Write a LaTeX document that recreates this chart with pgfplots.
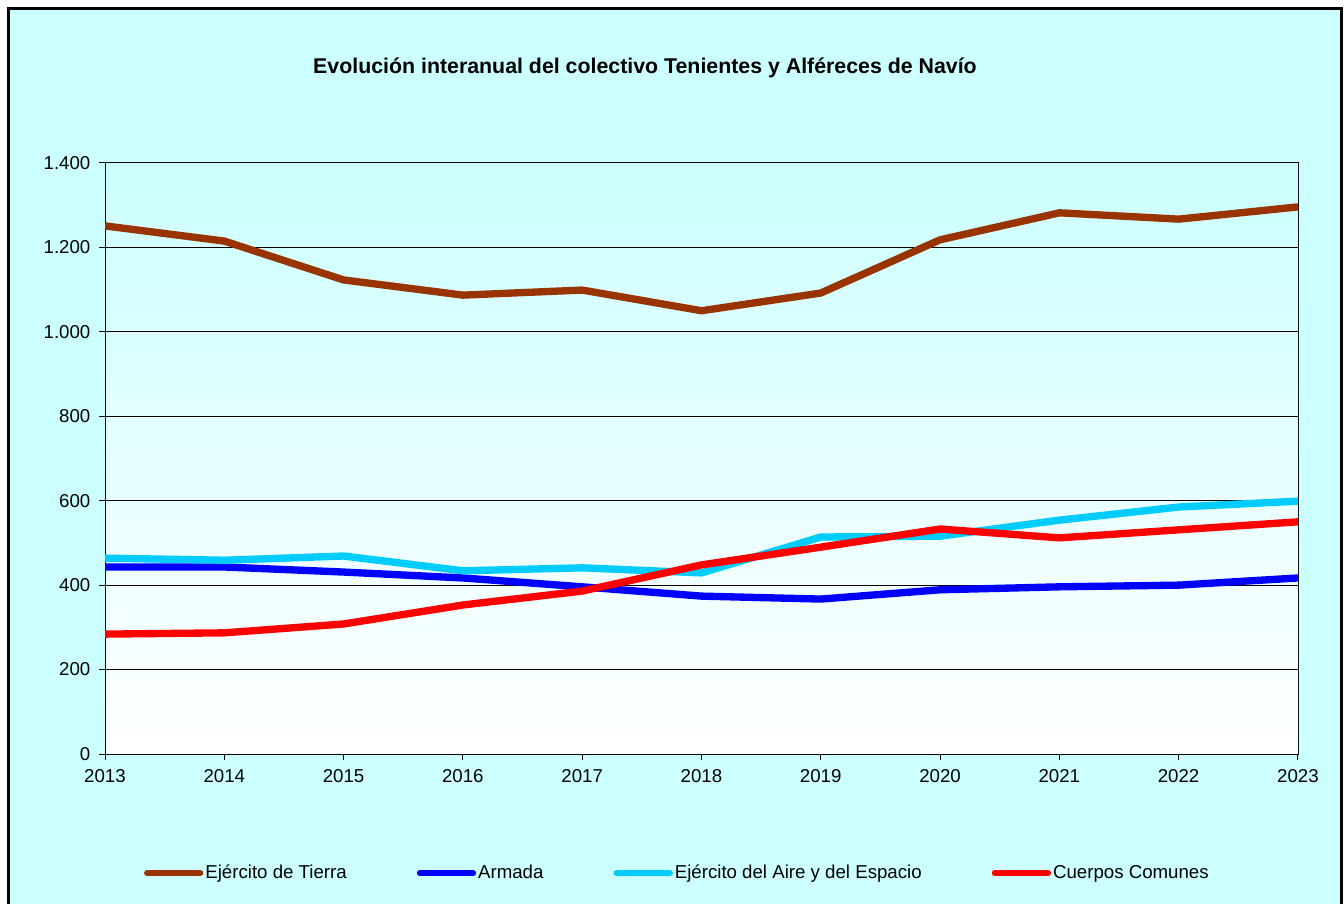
\documentclass[border=0pt]{standalone}
\usepackage{pgfplots}
\pgfplotsset{compat=1.18}
\usepackage{fontspec}
\setmainfont{Liberation Sans}

\definecolor{fondo}{HTML}{CCFFFF}
\definecolor{tierra}{HTML}{993300}
\definecolor{armada}{HTML}{0000FF}
\definecolor{aire}{HTML}{00CCFF}
\definecolor{comunes}{HTML}{FF0000}

\begin{document}
\begin{tikzpicture}[x=0.75pt,y=0.75pt]
\useasboundingbox (0,0) rectangle (1344,903);
\fill[white] (0,0) rectangle (1344,903);
\draw[line width=2.25pt, fill=fondo] (8.5,-10) rectangle (1341,894.5);

\node[font=\fontsize{16}{19}\selectfont\bfseries] at (645,835)
  {Evolución interanual del colectivo Tenientes y Alféreces de Navío};

\begin{axis}[
    at={(78.75pt,111.75pt)}, anchor=south west,
    scale only axis,
    width=894.75pt, height=443.25pt,
    xmin=2013, xmax=2023,
    ymin=0, ymax=1400,
    xtick={2013,...,2023},
    ytick={0,200,...,1400},
    /pgf/number format/assume math mode=true,
    /pgf/number format/1000 sep={.},
    xticklabel style={/pgf/number format/1000 sep={}, yshift=-3.5pt},
    yticklabel style={xshift=-3pt},
    tick label style={font=\fontsize{14}{16}\selectfont},
    tick align=outside,
    xtick pos=left, ytick pos=left,
    major tick length=4.5pt,
    tick style={black, line width=0.75pt},
    axis line style={black, line width=0.75pt},
    ymajorgrids=true,
    grid style={black, line width=0.75pt},
    axis background/.style={top color=fondo, bottom color=white},
    legend columns=4,
    legend style={at={(rel axis cs:0.0325,-0.2014)}, anchor=west,
        draw=none, fill=none, inner xsep=0pt,
        font=\fontsize{14}{16}\selectfont,
        nodes={inner xsep=1.5pt},
        /tikz/every even column/.append style={column sep=51pt}},
    legend cell align=left,
    legend image code/.code={\draw[#1, line width=4.5pt, line cap=round] (1pt,0pt) -- (41pt,0pt);},
    every axis plot/.append style={line width=5.5pt, line join=round},
]
\addplot[tierra] coordinates {
 (2013,1251) (2014,1215) (2015,1123) (2016,1087) (2017,1099) (2018,1050)
 (2019,1092) (2020,1218) (2021,1282) (2022,1267) (2023,1296)};
\addlegendentry{Ejército de Tierra}
\addplot[armada] coordinates {
 (2013,443) (2014,443) (2015,431) (2016,417) (2017,396) (2018,374)
 (2019,367) (2020,389) (2021,396) (2022,400) (2023,417)};
\addlegendentry{Armada}
\addplot[aire] coordinates {
 (2013,464) (2014,459) (2015,469) (2016,434) (2017,441) (2018,429)
 (2019,514) (2020,516) (2021,554) (2022,585) (2023,599)};
\addlegendentry{Ejército del Aire y del Espacio}
\addplot[comunes] coordinates {
 (2013,284) (2014,287) (2015,308) (2016,353) (2017,386) (2018,448)
 (2019,490) (2020,533) (2021,512) (2022,531) (2023,550)};
\addlegendentry{Cuerpos Comunes}
\draw[gray, line width=0.75pt] (rel axis cs:1,0) -- (rel axis cs:1,1);
\end{axis}
\end{tikzpicture}
\end{document}
